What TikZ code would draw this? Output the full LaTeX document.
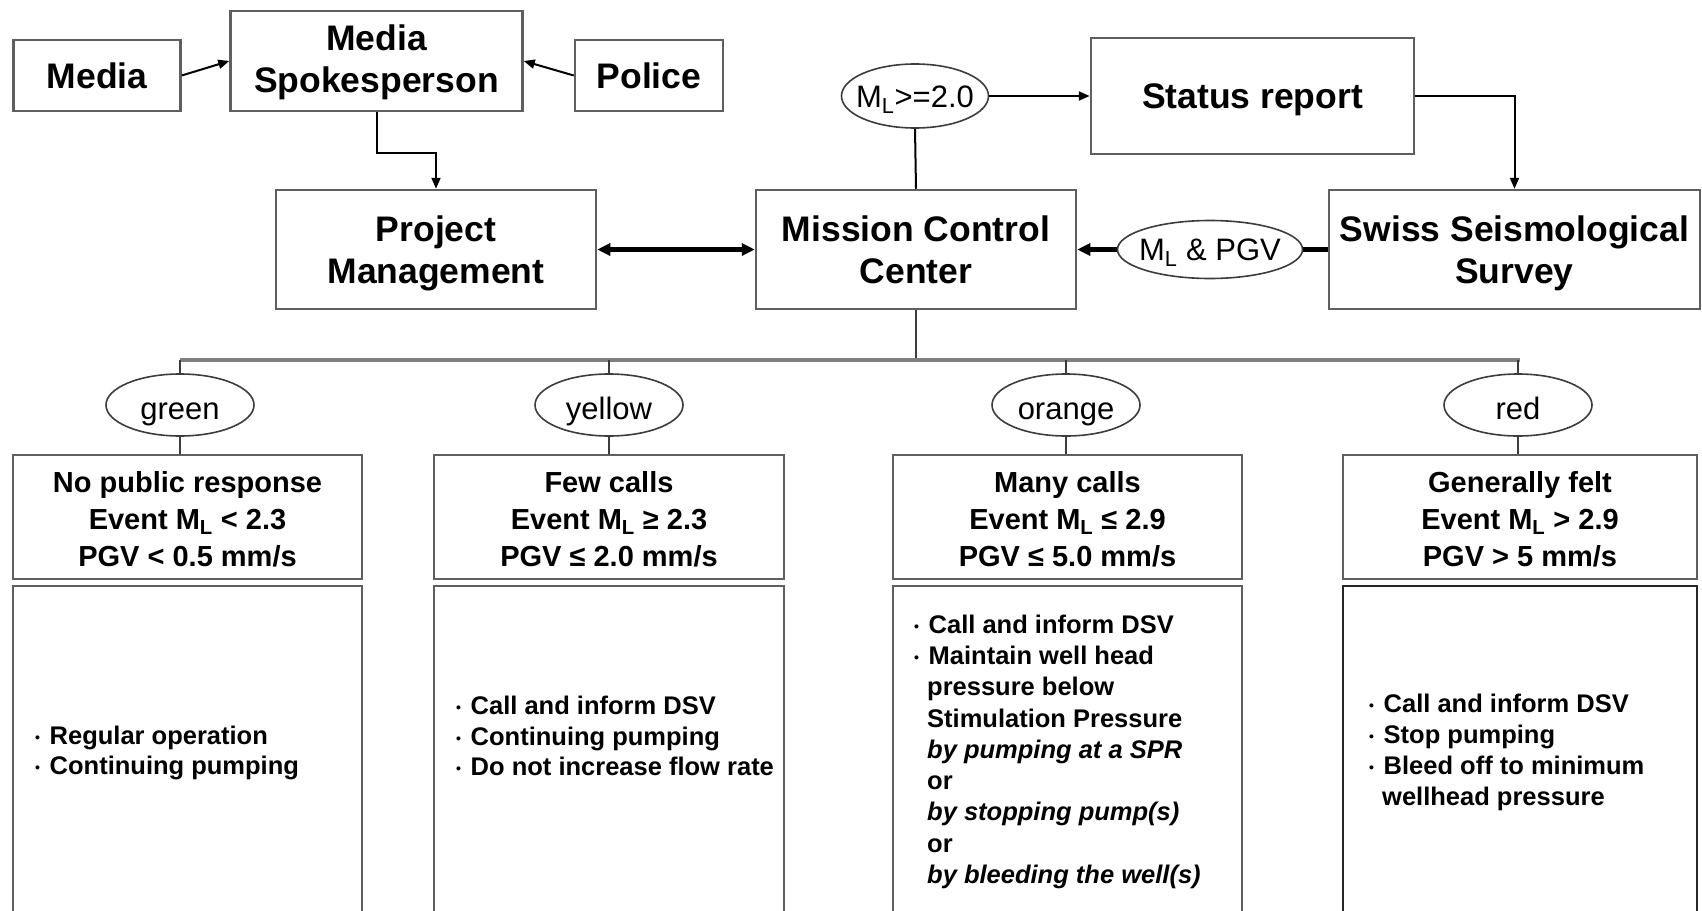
\documentclass[tikz,border=0pt]{standalone}
\usepackage{fontspec}
\setmainfont{Liberation Sans}
\usetikzlibrary{arrows.meta,shapes.geometric}
\definecolor{boxgray}{RGB}{95,95,95}
\definecolor{busgray}{RGB}{128,128,128}
\definecolor{ellgray}{RGB}{60,60,60}
\newcommand{\sizef}[1]{\fontsize{#1}{#1}\selectfont}
\newcommand{\smbul}{\makebox[14.5pt][l]{\raisebox{1.5pt}{\fontsize{14}{14}\selectfont\textbullet}}}
\newcommand{\contind}{\hspace*{13pt}}
\begin{document}
\begin{tikzpicture}[x=1pt,y=-1pt,
  box/.style={draw=boxgray, line width=2.5pt, fill=white, inner sep=0pt, rectangle},
  ell/.style={draw=ellgray, line width=1.6pt, ellipse, inner sep=0pt, fill=white},
  ttl/.style={inner sep=0pt, anchor=base, font=\bfseries\sizef{35.5}},
  hdr/.style={inner sep=0pt, anchor=base, font=\bfseries\sizef{29}},
  lst/.style={inner sep=0pt, anchor=base west, font=\bfseries\sizef{25.5}},
  elt/.style={inner sep=0pt, anchor=base, font=\sizef{31}},
  arr/.style={-{Triangle[length=11pt,width=9pt]}, line width=2pt, black},
  thkarr/.style={-{Triangle[length=13pt,width=12pt]}, line width=4.5pt, black},
  thkdbl/.style={{Triangle[length=13pt,width=12pt]}-{Triangle[length=13pt,width=12pt]}, line width=4.5pt, black},
  thk/.style={line width=4.5pt, black},
  thin/.style={line width=2pt, black},
  bus/.style={line width=4.5pt, busgray},
  drop/.style={line width=2pt, ellgray}
]
\useasboundingbox (0,0) rectangle (1702,910);
\clip (0,0) rectangle (1702,910);
\fill[white] (0,0) rectangle (1702,910);

% top row
\node[box, minimum width=167, minimum height=71] (media) at (97,75.5) {};
\node[box, minimum width=292, minimum height=100] (spk) at (376.5,61) {};
\node[box, minimum width=148, minimum height=71] (police) at (649,75.5) {};
\node[ell, minimum width=147, minimum height=64] (mlge) at (915,96) {};
\node[box, minimum width=323, minimum height=116] (status) at (1252.5,96) {};

% middle row
\node[box, minimum width=320, minimum height=119] (pm) at (436,249.5) {};
\node[box, minimum width=320, minimum height=119] (mcc) at (916,249.5) {};
\node[box, minimum width=371, minimum height=119] (sss) at (1514.5,249.5) {};
\node[ell, minimum width=185, minimum height=58] (mlpgv) at (1210,249.5) {};

% level ellipses
\node[ell, minimum width=148, minimum height=62] (eg) at (180,405) {};
\node[ell, minimum width=148, minimum height=62] (ey) at (609,405) {};
\node[ell, minimum width=148, minimum height=62] (eo) at (1066,405) {};
\node[ell, minimum width=148, minimum height=62] (er) at (1518,405) {};

% header boxes
\node[box, minimum width=349, minimum height=124] (hg) at (187.5,517) {};
\node[box, minimum width=350, minimum height=124] (hy) at (609,517) {};
\node[box, minimum width=349, minimum height=124] (ho) at (1067.5,517) {};
\node[box, minimum width=354, minimum height=124] (hr) at (1520,517) {};

% action boxes
\node[box, minimum width=349, minimum height=344] (ag) at (187.5,758) {};
\node[box, minimum width=350, minimum height=344] (ay) at (609,758) {};
\node[box, minimum width=349, minimum height=344] (ao) at (1067.5,758) {};
\node[box, draw=black!85, minimum width=354, minimum height=344] (ar) at (1520,758) {};

% connectors
\draw[arr] (media.east) -- (spk.west);
\draw[arr] (police.west) -- (spk.east);
\draw[arr] (spk.south) -- ++(0,41) -| (pm.north);
\draw[arr] (mlge.east) -- (status.west);
\draw[arr] (status.east) -| (sss.north);
\draw[thin] (mlge.south) -- (mcc.north);
\draw[thkdbl] (pm.east) -- (mcc.west);
\draw[thk] (sss.west) -- (mlpgv.east);
\draw[thkarr] (mlpgv.west) -- (mcc.east);

\coordinate (busL) at (180,360);
\coordinate (busR) at (1520,360);
\draw[drop] (mcc.south) -- (mcc.south |- busL);
\draw[bus] (busL) -- (busR);
\draw[drop] (eg.north |- busL) -- (eg.north);
\draw[drop] (ey.north |- busL) -- (ey.north);
\draw[drop] (eo.north |- busL) -- (eo.north);
\draw[drop] (er.north |- busL) -- (er.north);
\draw[drop] (eg.south) -- (eg.south |- hg.north);
\draw[drop] (ey.south) -- (ey.south |- hy.north);
\draw[drop] (eo.south) -- (eo.south |- ho.north);
\draw[drop] (er.south) -- (er.south |- hr.north);

% texts top & middle
\node[ttl] (tmedia) at (97,88) {Media};
\node[ttl] (tspk1) at (376.5,50) {Media};
\node[ttl] (tspk2) at (376.5,92) {Spokesperson};
\node[ttl] (tpolice) at (649,88) {Police};
\node[ttl] (tstatus) at (1252.5,108) {Status report};
\node[ttl] (tpm1) at (436,241) {Project};
\node[ttl] (tpm2) at (436,283) {Management};
\node[ttl] (tmcc1) at (916,241) {Mission Control};
\node[ttl] (tmcc2) at (916,283) {Center};
\node[ttl] (tsss1) at (1514.5,241) {Swiss Seismological};
\node[ttl] (tsss2) at (1514.5,283) {Survey};
\node[elt] (tmlge) at (915,107) {M\textsubscript{L}>=2.0};
\node[elt] (tmlpgv) at (1210,260) {M\textsubscript{L} \& PGV};

% ellipse labels
\node[elt] (teg) at (180,419) {green};
\node[elt] (tey) at (609,419) {yellow};
\node[elt] (teo) at (1066,419) {orange};
\node[elt] (ter) at (1518,419) {red};

% headers
\node[hdr] (hg1) at (187.5,492) {No public response};
\node[hdr] (hg2) at (187.5,529) {Event M\textsubscript{L} < 2.3};
\node[hdr] (hg3) at (187.5,566) {PGV < 0.5 mm/s};
\node[hdr] (hy1) at (609,492) {Few calls};
\node[hdr] (hy2) at (609,529) {Event M\textsubscript{L} ≥ 2.3};
\node[hdr] (hy3) at (609,566) {PGV ≤ 2.0 mm/s};
\node[hdr] (ho1) at (1067.5,492) {Many calls};
\node[hdr] (ho2) at (1067.5,529) {Event M\textsubscript{L} ≤ 2.9};
\node[hdr] (ho3) at (1067.5,566) {PGV ≤ 5.0 mm/s};
\node[hdr] (hr1) at (1520,492) {Generally felt};
\node[hdr] (hr2) at (1520,529) {Event M\textsubscript{L} > 2.9};
\node[hdr] (hr3) at (1520,566) {PGV > 5 mm/s};

% lists
\node[lst] (lg1) at (35,744) {\smbul Regular operation};
\node[lst] (lg2) at (35,774) {\smbul Continuing pumping};

\node[lst] (ly1) at (456,714) {\smbul Call and inform DSV};
\node[lst] (ly2) at (456,745) {\smbul Continuing pumping};
\node[lst] (ly3) at (456,775) {\smbul Do not increase flow rate};

\node[lst] (lo1) at (914,633) {\smbul Call and inform DSV};
\node[lst] (lo2) at (914,664) {\smbul Maintain well head};
\node[lst] (lo3) at (914,695) {\contind pressure below};
\node[lst] (lo4) at (914,727) {\contind Stimulation Pressure};
\node[lst] (lo5) at (914,758) {\contind\itshape by pumping at a SPR};
\node[lst] (lo6) at (914,789) {\contind or};
\node[lst] (lo7) at (914,820) {\contind\itshape by stopping pump(s)};
\node[lst] (lo8) at (914,852) {\contind or};
\node[lst] (lo9) at (914,883) {\contind\itshape by bleeding the well(s)};

\node[lst] (lr1) at (1369,712) {\smbul Call and inform DSV};
\node[lst] (lr2) at (1369,743) {\smbul Stop pumping};
\node[lst] (lr3) at (1369,774) {\smbul Bleed off to minimum};
\node[lst] (lr4) at (1369,805) {\contind wellhead pressure};
\end{tikzpicture}
\end{document}
